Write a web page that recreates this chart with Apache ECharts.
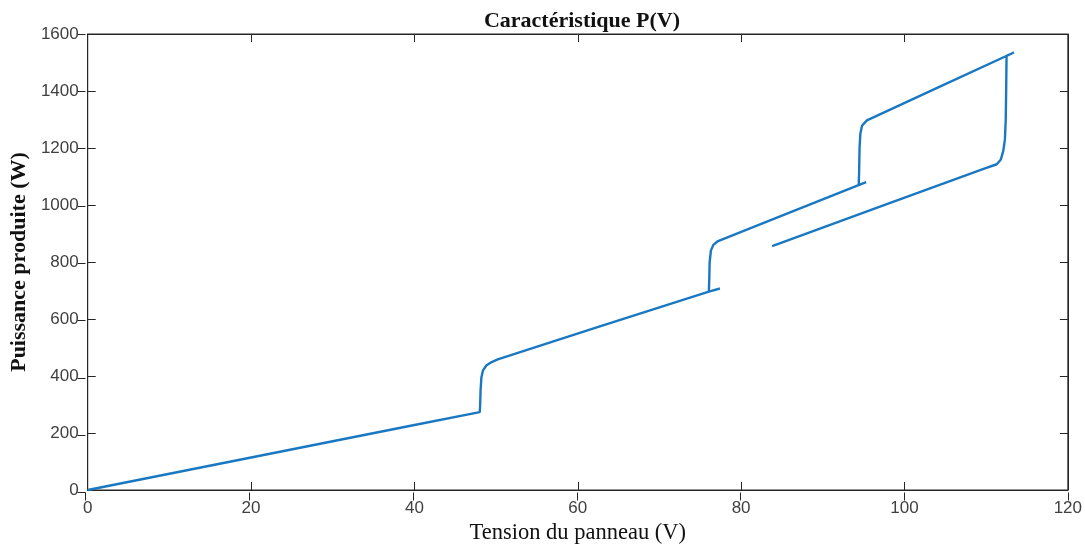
<!DOCTYPE html>
<html>
<head>
<meta charset="utf-8">
<script src="https://cdn.jsdelivr.net/npm/echarts@6/dist/echarts.min.js"></script>
<style>
  html, body { margin: 0; padding: 0; background: #fff; }
  #chart { width: 1085px; height: 550px; }
</style>
</head>
<body>
<div id="chart"></div>
<script>
// tension (V) et puissance (W), dans l'ordre du tracé
var tension = [
  0, 10, 20, 30, 40, 48,
  48.05, 48.1, 48.2, 48.4, 48.8, 49.4, 50.2,
  62.8, 76.05, 77.4, 76.05,
  76.1, 76.15, 76.3, 76.6, 77.1,
  84, 95.3, 94.4,
  94.45, 94.5, 94.6, 94.8, 95.4,
  104, 113.4, 112.5,
  112.45, 112.4, 112.3, 112.1, 111.8, 111.3, 109.6,
  97, 83.8
];
var puissance = [
  0, 57, 114, 171, 228, 273,
  300, 350, 395, 420, 437, 448, 458,
  575, 696, 707, 696,
  740, 800, 840, 860, 872,
  951, 1080, 1070,
  1120, 1200, 1250, 1278, 1297,
  1411, 1535, 1523,
  1400, 1300, 1231, 1190, 1160, 1143, 1126,
  994, 856
];
var xTicks = [0, 20, 40, 60, 80, 100, 120];
var yTicks = [0, 200, 400, 600, 800, 1000, 1200, 1400, 1600];

var myChart = echarts.init(document.getElementById('chart'));
var axisColor = '#262626';
var xMin = xTicks[0], xMax = xTicks[xTicks.length - 1];
var yMin = yTicks[0], yMax = yTicks[yTicks.length - 1];
var gridBox = { left: 85.5, right: 17, top: 34, bottom: 57.5 };

function axisLine(show) {
  return { show: show, onZero: false, lineStyle: { color: axisColor } };
}
function axisTick(inside) {
  return { show: true, inside: inside, length: 8, lineStyle: { color: axisColor } };
}
function tickLabel(margin) {
  return {
    margin: margin, fontFamily: 'Liberation Sans', fontSize: 17, color: '#404040',
    formatter: function (v) { return String(v); }
  };
}
// axe sans texte, seulement les graduations
function tickAxis(grid, pos, min, max, step, inside, lineShow) {
  return {
    gridIndex: grid, type: 'value', position: pos, min: min, max: max, interval: step,
    axisLine: axisLine(lineShow), axisTick: axisTick(inside),
    axisLabel: { show: false }, splitLine: { show: false }
  };
}

var option = {
  animation: false,
  title: {
    text: 'Caractéristique P(V)',
    left: 577,
    textAlign: 'center',
    top: 5,
    textStyle: { fontFamily: 'Liberation Serif', fontWeight: 'bold', fontSize: 22, color: '#111' }
  },
  grid: [
    Object.assign({ show: true, borderColor: axisColor, borderWidth: 1 }, gridBox),
    Object.assign({ show: false }, gridBox)
  ],
  xAxis: [{
    gridIndex: 0, type: 'value', position: 'bottom', min: xMin, max: xMax, interval: 20,
    name: 'Tension du panneau (V)', nameLocation: 'middle', nameGap: 32,
    nameTextStyle: { fontFamily: 'Liberation Serif', fontSize: 22.5, color: '#111' },
    axisLine: axisLine(true), axisTick: axisTick(true), axisLabel: tickLabel(10),
    splitLine: { show: false }
  },
    tickAxis(0, 'top', xMin, xMax, 20, true, true),
    tickAxis(1, 'bottom', xMin, xMax, 20, false, false)
  ],
  yAxis: [{
    gridIndex: 0, type: 'value', position: 'left', min: yMin, max: yMax, interval: 200,
    name: 'Puissance produite (W)', nameLocation: 'middle', nameGap: 54,
    nameTextStyle: { fontFamily: 'Liberation Serif', fontWeight: 'bold', fontSize: 22, color: '#111' },
    axisLine: axisLine(true), axisTick: axisTick(true), axisLabel: tickLabel(9),
    splitLine: { show: false }
  },
    tickAxis(0, 'right', yMin, yMax, 200, true, true),
    tickAxis(1, 'left', yMin, yMax, 200, false, false)
  ],
  series: [{
    type: 'line',
    xAxisIndex: 0, yAxisIndex: 0,
    data: tension.map(function (v, i) { return [v, puissance[i]]; }),
    symbol: 'none',
    smooth: false,
    lineStyle: { color: '#1a78c2', width: 2.4 }
  }, {
    // séries vides pour afficher les graduations des autres côtés
    type: 'line', xAxisIndex: 1, yAxisIndex: 1, data: [], silent: true
  }, {
    type: 'line', xAxisIndex: 2, yAxisIndex: 2, data: [], silent: true
  }]
};
myChart.setOption(option);
</script>
</body>
</html>
